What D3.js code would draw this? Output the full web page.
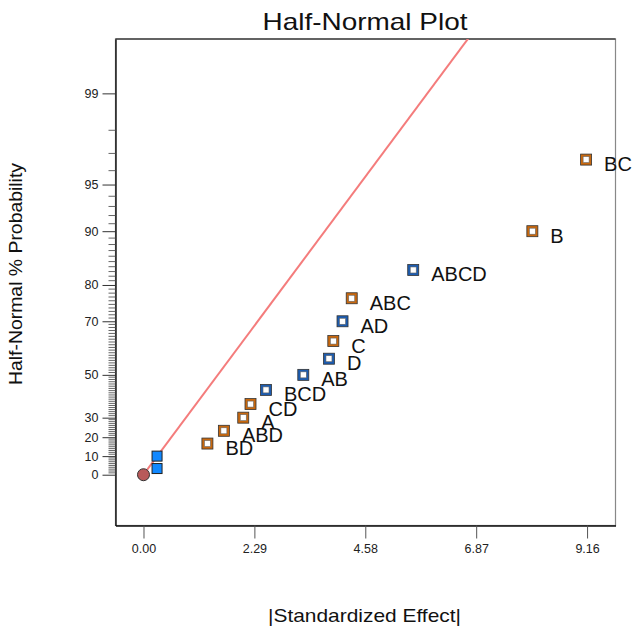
<!DOCTYPE html>
<html>
  <head>
    <script src="https://cdn.jsdelivr.net/npm/d3@7"></script>
    <style>
      body { margin: 0; background: #fff; }
      text { font-family: "Liberation Sans", Arial, sans-serif; }
    </style>
  </head>
  <body>
    <svg id="chart" width="634" height="630"></svg>
    <script>
      // effects (|standardized effect|) and half-normal % probability
      var effectNames = ["BD", "ABD", "A", "CD", "BCD", "AB", "D", "C", "AD", "ABC", "ABCD", "B", "BC"];
      var effectValues = [1.32, 1.66, 2.06, 2.21, 2.53, 3.30, 3.83, 3.92, 4.11, 4.30, 5.57, 8.03, 9.14];
      var effectProbs = [16.67, 23.33, 30, 36.67, 43.33, 50, 56.67, 63.33, 70, 76.67, 83.33, 90, 96.67];
      var effectSign = ["pos", "pos", "pos", "pos", "neg", "neg", "neg", "pos", "neg", "pos", "neg", "pos", "pos"];

      // error terms (unlabelled filled squares)
      var errorValues = [0.28, 0.28];
      var errorProbs = [3.33, 10];

      // origin point and reference line
      var originPoint = [0, 0];
      var refLine = [[0, 0], [7.0, 99.79]];

      var xTicks = [0.00, 2.29, 4.58, 6.87, 9.16];
      var yMajor = [0, 10, 20, 30, 50, 70, 80, 90, 95, 99];
      var yMinor = d3.range(1, 99).filter(p => yMajor.indexOf(p) < 0);

      // inverse normal cdf (Acklam)
      function probit(p) {
        var a = [-3.969683028665376e+01, 2.209460984245205e+02, -2.759285104469687e+02, 1.383577518672690e+02, -3.066479806614716e+01, 2.506628277459239e+00];
        var b = [-5.447609879822406e+01, 1.615858368580409e+02, -1.556989798598866e+02, 6.680131188771972e+01, -1.328068155288572e+01];
        var c = [-7.784894002430293e-03, -3.223964580411365e-01, -2.400758277161838e+00, -2.549732539343734e+00, 4.374664141464968e+00, 2.938163982698783e+00];
        var d = [7.784695709041462e-03, 3.224671290700398e-01, 2.445134137142996e+00, 3.754408661907416e+00];
        var q, r;
        if (p < 0.02425) {
          q = Math.sqrt(-2 * Math.log(p));
          return (((((c[0]*q+c[1])*q+c[2])*q+c[3])*q+c[4])*q+c[5]) / ((((d[0]*q+d[1])*q+d[2])*q+d[3])*q+1);
        } else if (p > 1 - 0.02425) {
          q = Math.sqrt(-2 * Math.log(1 - p));
          return -(((((c[0]*q+c[1])*q+c[2])*q+c[3])*q+c[4])*q+c[5]) / ((((d[0]*q+d[1])*q+d[2])*q+d[3])*q+1);
        }
        q = p - 0.5; r = q * q;
        return (((((a[0]*r+a[1])*r+a[2])*r+a[3])*r+a[4])*r+a[5])*q / (((((b[0]*r+b[1])*r+b[2])*r+b[3])*r+b[4])*r+1);
      }
      function halfZ(pct) { return pct <= 0 ? 0 : probit(0.5 + pct / 200); }

      var L = 115.5, R = 615.5, T = 39, B = 525.5;
      var svg = d3.select("#chart");

      var x = d3.scaleLinear().domain([-0.578, 9.747]).range([L, R]);
      var yz = d3.scaleLinear().domain([-0.343, 2.943]).range([B, T]);
      var y = p => yz(halfZ(p));

      svg.append("defs").append("clipPath").attr("id", "clip")
        .append("rect").attr("x", L).attr("y", T).attr("width", R - L).attr("height", B - T);

      // frame
      svg.append("rect").attr("x", L).attr("y", T).attr("width", R - L).attr("height", B - T)
        .attr("fill", "none").attr("stroke", "#888").attr("stroke-width", 1.2);
      svg.append("line").attr("x1", L).attr("x2", R).attr("y1", T).attr("y2", T).attr("stroke", "#111").attr("stroke-width", 1.2);

      // y axis
      var yAxis = d3.axisLeft(yz).tickValues(yMajor.map(halfZ)).tickFormat((d, i) => yMajor[i])
        .tickSize(13).tickPadding(4).tickSizeOuter(0);
      var gy = svg.append("g").attr("transform", `translate(${L},0)`).call(yAxis);
      gy.select(".domain").attr("stroke", "#111").attr("stroke-width", 1.4);
      gy.selectAll(".tick line").attr("stroke", "#333");
      gy.selectAll(".tick text").attr("font-size", 12.5).attr("fill", "#222")
        .attr("font-family", "'Liberation Sans', Arial, sans-serif");
      gy.append("g").selectAll("line").data(yMinor).enter().append("line")
        .attr("x1", -7).attr("x2", 0)
        .attr("y1", d => y(d)).attr("y2", d => y(d))
        .attr("stroke", "#555").attr("stroke-width", 0.9);

      // x axis
      var xAxis = d3.axisBottom(x).tickValues(xTicks).tickFormat(d3.format(".2f"))
        .tickSize(13).tickPadding(6).tickSizeOuter(0);
      var gx = svg.append("g").attr("transform", `translate(0,${B})`).call(xAxis);
      gx.select(".domain").attr("stroke", "#111").attr("stroke-width", 1.4);
      gx.selectAll(".tick line").attr("stroke", "#555");
      gx.selectAll(".tick text").attr("font-size", 12.5).attr("fill", "#222")
        .attr("font-family", "'Liberation Sans', Arial, sans-serif");

      // reference line
      var lineMaker = d3.line().x(d => x(d[0])).y(d => y(d[1]));
      svg.append("path").attr("clip-path", "url(#clip)")
        .attr("d", lineMaker(refLine))
        .attr("fill", "none").attr("stroke", "#f47c7c").attr("stroke-width", 2);

      // origin point
      svg.append("circle").attr("cx", x(originPoint[0])).attr("cy", y(originPoint[1])).attr("r", 6)
        .attr("fill", "#b85a5a").attr("stroke", "#333").attr("stroke-width", 1);

      // error squares
      svg.append("g").selectAll("rect").data(errorValues).enter().append("rect")
        .attr("x", d => x(d) - 5).attr("y", (d, i) => y(errorProbs[i]) - 5)
        .attr("width", 10).attr("height", 10)
        .attr("fill", "#1188ff").attr("stroke", "#222").attr("stroke-width", 1);

      // effect squares
      var colors = { pos: "#c8680e", neg: "#1c5cb0" };
      var g = svg.append("g");
      effectValues.forEach(function (v, i) {
        var cx = x(v), cy = y(effectProbs[i]);
        g.append("rect").attr("x", cx - 5.5).attr("y", cy - 5.5).attr("width", 11).attr("height", 11)
          .attr("fill", colors[effectSign[i]]).attr("stroke", "#333").attr("stroke-width", 0.8);
        g.append("rect").attr("x", cx - 3).attr("y", cy - 3).attr("width", 6).attr("height", 6)
          .attr("fill", "#fff").attr("stroke", "#666").attr("stroke-width", 0.6);
        g.append("text").attr("x", cx + 18).attr("y", cy + 11.5)
          .attr("font-size", 20).attr("fill", "#111").text(effectNames[i]);
      });

      // titles
      svg.append("text").attr("x", 365).attr("y", 30).attr("text-anchor", "middle")
        .attr("font-size", 24).attr("textLength", 205).attr("lengthAdjust", "spacingAndGlyphs")
        .attr("fill", "#111").text("Half-Normal Plot");
      svg.append("text").attr("x", 364.5).attr("y", 622).attr("text-anchor", "middle")
        .attr("font-size", 19).attr("textLength", 193).attr("lengthAdjust", "spacingAndGlyphs")
        .attr("fill", "#111").text("|Standardized Effect|");
      svg.append("text").attr("transform", "translate(22,274) rotate(-90)").attr("text-anchor", "middle")
        .attr("font-size", 19).attr("textLength", 222).attr("lengthAdjust", "spacingAndGlyphs")
        .attr("fill", "#111").text("Half-Normal % Probability");
    </script>
  </body>
</html>
